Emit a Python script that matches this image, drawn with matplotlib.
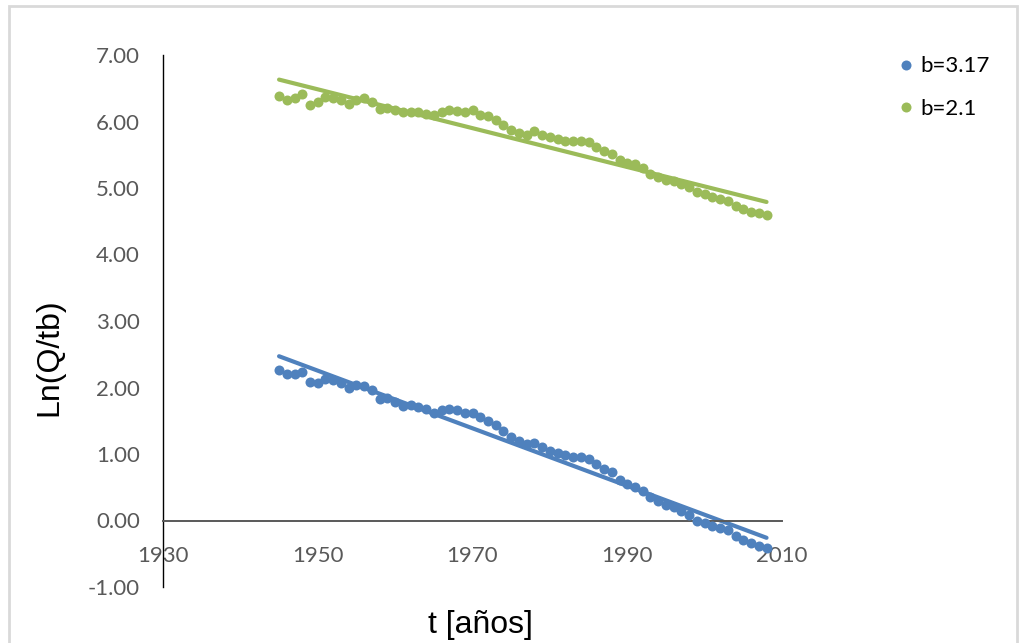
import numpy as np
import matplotlib
matplotlib.use("Agg")
import matplotlib.pyplot as plt
from matplotlib.patches import Rectangle

# years of each point (1945 .. 2008)
years = [1945, 1946, 1947, 1948, 1949, 1950, 1951, 1952, 1953, 1954,
         1955, 1956, 1957, 1958, 1959, 1960, 1961, 1962, 1963, 1964,
         1965, 1966, 1967, 1968, 1969, 1970, 1971, 1972, 1973, 1974,
         1975, 1976, 1977, 1978, 1979, 1980, 1981, 1982, 1983, 1984,
         1985, 1986, 1987, 1988, 1989, 1990, 1991, 1992, 1993, 1994,
         1995, 1996, 1997, 1998, 1999, 2000, 2001, 2002, 2003, 2004,
         2005, 2006, 2007, 2008]

# Ln(Q/t^b) for b=3.17
ln_b317 = [2.27, 2.20, 2.21, 2.23, 2.08, 2.07, 2.13, 2.11, 2.07, 1.99,
           2.04, 2.02, 1.96, 1.82, 1.84, 1.78, 1.72, 1.73, 1.70, 1.67,
           1.62, 1.66, 1.68, 1.66, 1.61, 1.62, 1.55, 1.49, 1.43, 1.34,
           1.25, 1.19, 1.15, 1.16, 1.10, 1.05, 1.02, 0.99, 0.96, 0.96,
           0.92, 0.85, 0.78, 0.73, 0.61, 0.55, 0.51, 0.45, 0.36, 0.29,
           0.24, 0.20, 0.15, 0.08, 0.00, -0.04, -0.08, -0.11, -0.15, -0.23,
           -0.30, -0.34, -0.38, -0.41]

# Ln(Q/t^b) for b=2.1
ln_b21 = [6.39, 6.32, 6.35, 6.41, 6.25, 6.29, 6.37, 6.35, 6.32, 6.26,
          6.32, 6.35, 6.30, 6.19, 6.20, 6.18, 6.15, 6.15, 6.15, 6.12,
          6.10, 6.15, 6.17, 6.16, 6.15, 6.17, 6.10, 6.08, 6.02, 5.95,
          5.87, 5.82, 5.80, 5.85, 5.80, 5.77, 5.74, 5.71, 5.70, 5.70,
          5.69, 5.62, 5.56, 5.51, 5.42, 5.38, 5.36, 5.30, 5.21, 5.17,
          5.12, 5.10, 5.06, 5.01, 4.94, 4.91, 4.87, 4.84, 4.81, 4.73,
          4.69, 4.64, 4.62, 4.59]

# linear trend lines, read at both ends
trend_years = [1945, 2008]
trend_b317 = [2.47, -0.26]
trend_b21 = [6.63, 4.79]

labels = ["b=3.17", "b=2.1"]
blue = "#4F81BD"
green = "#9BBB59"

W, H = 1021, 643
fig = plt.figure(figsize=(W / 100, H / 100), dpi=100)
ax = fig.add_axes([163 / W, 1 - 587 / H, (782 - 163) / W, (587 - 55) / H])

ax.plot(trend_years, trend_b317, color=blue, lw=3.0, solid_capstyle="round", zorder=2)
ax.plot(trend_years, trend_b21, color=green, lw=3.0, solid_capstyle="round", zorder=2)
ax.plot(years, ln_b317, "o", color=blue, ms=7.2, mew=0, label=labels[0], zorder=3)
ax.plot(years, ln_b21, "o", color=green, ms=7.2, mew=0, label=labels[1], zorder=3)

ax.set_xlim(1930, 2010)
ax.set_ylim(-1, 7)
ax.set_xticks([1930, 1950, 1970, 1990, 2010])
ax.set_yticks(np.arange(-1, 8, 1))
ax.set_yticklabels(["%.2f" % v for v in np.arange(-1, 8, 1)])

for s in ["top", "right"]:
    ax.spines[s].set_visible(False)
ax.spines["bottom"].set_position(("data", 0))
ax.spines["bottom"].set_color("#595959")
ax.spines["bottom"].set_linewidth(1.4)
ax.spines["left"].set_color("black")
ax.spines["left"].set_linewidth(1.0)

ax.tick_params(axis="both", length=0, labelsize=16, labelcolor="#595959")
ax.tick_params(axis="x", pad=18)
ax.tick_params(axis="y", pad=16.5)
for t in ax.get_xticklabels() + ax.get_yticklabels():
    t.set_family("Lato")

fig.text(480 / W, 1 - 625 / H, "t [años]", ha="center", va="center",
         fontsize=23, family="Liberation Sans")
fig.text(49 / W, 1 - 357 / H, "Ln(Q/tb)", ha="center", va="center",
         rotation=90, fontsize=23, family="Liberation Sans")

fig.legend(loc="center left", bbox_to_anchor=(897 / W, 1 - 87.5 / H),
           frameon=False, borderpad=0, borderaxespad=0, handlelength=0.8,
           handletextpad=0.25, labelspacing=1.0,
           prop={"family": "Lato", "size": 16})

# light grey chart-area border
fig.patches.append(Rectangle((9 / W, -0.05), (1017 - 9) / W, 1.05 - 6 / H,
                             transform=fig.transFigure, fill=False,
                             edgecolor="#d9d9d9", lw=2))

fig.savefig("out.png", dpi=100)
